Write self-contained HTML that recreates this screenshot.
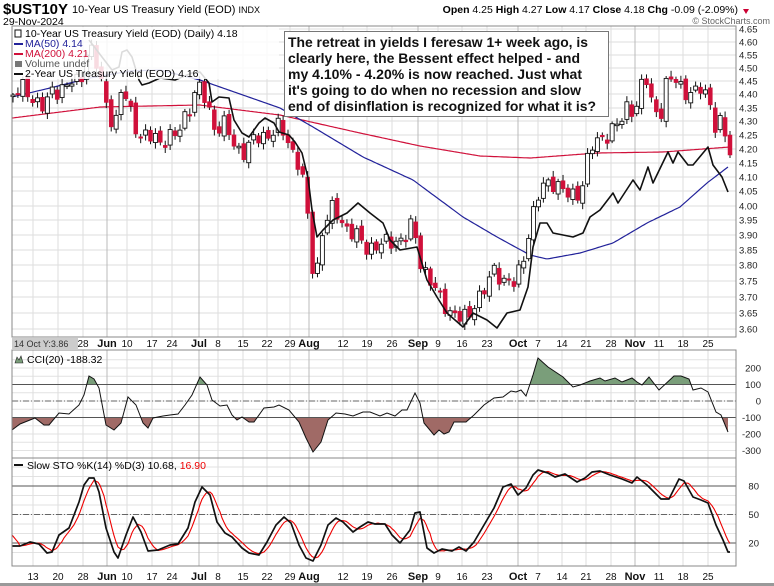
<!DOCTYPE html>
<html><head><meta charset="utf-8"><style>
html,body{margin:0;padding:0;background:#fff;}
svg{display:block;font-family:"Liberation Sans",Arial,sans-serif;}
</style></head><body>
<svg id="c" width="774" height="586" viewBox="0 0 774 586" xmlns="http://www.w3.org/2000/svg">
<rect width="774" height="586" fill="#fff"/>
<text x="3" y="14" font-size="15" font-weight="bold">$UST10Y</text>
<text x="72" y="13" font-size="11">10-Year US Treasury Yield (EOD) <tspan font-size="9">INDX</tspan></text>
<text x="3" y="25" font-size="10.5">29-Nov-2024</text>
<text x="738" y="13" font-size="10.5" text-anchor="end"><tspan font-weight="bold">Open</tspan> 4.25  <tspan font-weight="bold">High</tspan> 4.27  <tspan font-weight="bold">Low</tspan> 4.17  <tspan font-weight="bold">Close</tspan> 4.18  <tspan font-weight="bold">Chg</tspan> -0.09 (-2.09%)</text>
<path d="M743,9 l6,0 l-3,5z" fill="#c03"/>
<text x="770" y="24" font-size="9" fill="#666" text-anchor="end">© StockCharts.com</text>
<g id="grid"></g>
<g id="plot"></g>
<g id="fg"></g>
</svg>
<script>
(function(){
var NS="http://www.w3.org/2000/svg";
function el(p,t,a,txt){var e=document.createElementNS(NS,t);for(var q in a)e.setAttribute(q,a[q]);if(txt!=null)e.textContent=txt;document.getElementById(p).appendChild(e);return e;}
function interp(pts,x){if(x<=pts[0][0])return pts[0][1];for(var i=1;i<pts.length;i++){if(x<=pts[i][0]){var a=pts[i-1],b=pts[i];return a[1]+(b[1]-a[1])*(x-a[0])/(b[0]-a[0]);}}return pts[pts.length-1][1];}
function poly(pts){return pts.map(function(p){return p[0].toFixed(1)+","+p[1].toFixed(1)}).join(" ");}
var L=12,R=736;
var P1=[26,337],P2=[350,458],P3=[458,566];
var vx=[33,58,83,107,127,152,172,199,218,243,267,290,309,343,367,392,418,438,462,487,518,538,562,586,611,635,659,683,708];
var lab=["13","20","28","Jun","10","17","24","Jul","8","15","22","29","Aug","12","19","26","Sep","9","16","23","Oct","7","14","21","28","Nov","11","18","25"];
var month={"Jun":1,"Jul":1,"Aug":1,"Sep":1,"Oct":1,"Nov":1};
var pl=[[4.65,29],[4.60,42],[4.55,55],[4.50,68],[4.45,81],[4.40,94],[4.35,108],[4.30,121],[4.25,135],[4.20,149],[4.15,163],[4.10,177],[4.05,191],[4.00,206],[3.95,220],[3.90,235],[3.85,250],[3.80,265],[3.75,281],[3.70,297],[3.65,313],[3.60,329]];
pl.forEach(function(p){el("grid","line",{x1:L,x2:R,y1:p[1],y2:p[1],stroke:"#ddd","stroke-width":1});el("fg","text",{x:739,y:p[1]+3.5,"font-size":"9.5",fill:"#222"},p[0].toFixed(2));});
for(var v=250;v>=-300;v-=50){var yy=401-v*0.165;el("grid","line",{x1:L,x2:R,y1:yy,y2:yy,stroke:"#e2e2e2"});}
[200,100,0,-100,-200,-300].forEach(function(v){var y=401-v*0.165;el("fg","text",{x:761,y:y+3.5,"font-size":"9.5","text-anchor":"end",fill:"#222"},String(v));});
function sy(v){return 562-v*0.95;}
for(var v2=10;v2<=100;v2+=10){el("grid","line",{x1:L,x2:R,y1:sy(v2),y2:sy(v2),stroke:"#e2e2e2"});}
[80,50,20].forEach(function(v){el("fg","text",{x:759,y:sy(v)+3.5,"font-size":"9.5","text-anchor":"end",fill:"#222"},String(v));});
vx.forEach(function(x,i){var col=month[lab[i]]?"#bbb":"#ddd";
 [P1,P2,P3].forEach(function(p){el("grid","line",{x1:x,x2:x,y1:p[0],y2:p[1],stroke:col});});
 var b=month[lab[i]]?"bold":"normal";
 el("fg","text",{x:x,y:347,"font-size":month[lab[i]]?"11":"10","font-weight":b,"text-anchor":"middle",fill:"#111"},lab[i]);
 el("fg","text",{x:x,y:580,"font-size":month[lab[i]]?"11":"10","font-weight":b,"text-anchor":"middle",fill:"#111"},lab[i]);
});
var ma200=[[12,118],[100,107],[200,105],[280,115],[360,133],[420,146],[480,156],[530,158],[597,153],[663,152],[730,147]];
var ma50=[[12,97],[50,88],[90,78],[130,71],[160,70],[200,80],[240,94],[280,108],[313,127],[363,157],[413,180],[463,217],[497,237],[530,255],[547,259],[580,253],[613,243],[647,223],[680,207],[707,183],[728,167]];
function smooth(pts){var o=[];for(var x=pts[0][0];x<=pts[pts.length-1][0];x+=2)o.push([x,interp(pts,x)]);return o;}
el("plot","polyline",{points:poly(smooth(ma200)),fill:"none",stroke:"#d0103a","stroke-width":1.2});
el("plot","polyline",{points:poly(smooth(ma50)),fill:"none",stroke:"#22229a","stroke-width":1.2});
var cl=[[13,95],[25,88],[35,100],[45,110],[52,90],[62,88],[70,84],[80,82],[88,45],[94,55],[100,80],[107,105],[115,127],[122,88],[130,110],[140,135],[150,138],[160,140],[170,137],[178,136],[184,118],[192,100],[198,86],[205,100],[215,127],[225,125],[235,148],[245,150],[255,140],[262,137],[270,132],[280,128],[290,145],[300,165],[306,200],[312,268],[318,266],[323,225],[333,210],[345,225],[355,235],[365,248],[375,245],[385,245],[395,240],[405,238],[413,225],[420,260],[430,280],[440,300],[450,310],[460,318],[468,320],[475,300],[485,290],[495,270],[505,280],[515,285],[522,265],[530,225],[537,200],[545,185],[555,180],[562,190],[570,198],[577,195],[583,180],[590,150],[600,140],[610,130],[620,125],[628,105],[635,110],[641,88],[648,80],[652,105],[660,115],[667,82],[675,80],[685,90],[695,95],[702,88],[710,100],[715,125],[722,125],[730,155]];
var N=147,prev=95;
for(var i=0;i<N;i++){var cx=13+i*717/(N-1);
 var cc=interp(cl,cx)+7*Math.sin(i*2.3)+4*Math.sin(i*5.1);
 var oo=prev+3*Math.sin(i*3.7);
 if(i==N-1){oo=135;cc=155;}
 var tp=Math.min(oo,cc),bt=Math.max(oo,cc);if(bt-tp<1.5)bt=tp+1.5;
 var hi=tp-2-4*Math.abs(Math.sin(i*1.7)),lo=bt+2+4*Math.abs(Math.cos(i*1.3));
 if(i==N-1){hi=131;lo=158;}
 el("plot","line",{x1:cx,x2:cx,y1:hi,y2:lo,stroke:"#111","stroke-width":1});
 var red=cc>oo;
 el("plot","rect",{x:cx-2,y:tp,width:4,height:bt-tp,fill:red?"#d0103a":"#fff",stroke:red?"#d0103a":"#111","stroke-width":red?0.5:0.9});
 prev=cc;}
var y2=[[89,40],[102,57],[112,70],[119,67],[122,52],[127,50],[132,57],[139,80],[142,85],[149,83],[160,78],[175,80],[192,73],[200,72],[209,83],[212,102],[219,97],[229,98],[234,120],[242,133],[249,137],[259,123],[265,118],[274,123],[279,132],[289,135],[295,142],[302,153],[308,178],[312,210],[317,237],[323,230],[333,220],[347,213],[358,203],[370,213],[383,223],[390,240],[400,250],[417,247],[427,280],[437,297],[447,313],[463,327],[473,313],[487,320],[497,328],[507,313],[520,310],[528,287],[533,247],[540,223],[547,223],[553,233],[573,237],[583,233],[590,217],[600,210],[613,193],[618,203],[633,180],[640,190],[648,167],[653,183],[668,152],[673,163],[678,152],[688,165],[693,165],[708,147],[713,165],[722,177],[728,192]];
el("plot","polyline",{points:poly(y2),fill:"none",stroke:"#111","stroke-width":1.6,"stroke-linejoin":"round"});
var cci=[[12,430],[20,424],[35,418],[44,425],[49,425],[59,413],[69,414],[79,405],[84,395],[89,376],[94,379],[99,388],[106,425],[114,430],[121,423],[128,397],[136,405],[143,423],[148,428],[153,418],[163,416],[170,415],[178,414],[185,405],[192,395],[200,377],[207,385],[212,400],[220,406],[227,405],[232,415],[237,420],[242,417],[249,422],[254,422],[264,408],[274,407],[279,405],[289,410],[299,422],[306,438],[313,452],[321,442],[328,420],[336,413],[345,414],[353,416],[363,412],[370,412],[380,416],[387,413],[395,416],[402,410],[407,410],[415,393],[420,403],[424,423],[434,435],[439,430],[444,434],[449,432],[454,422],[466,422],[474,415],[484,405],[494,398],[503,397],[511,391],[516,392],[521,390],[526,396],[533,375],[538,358],[548,367],[563,377],[573,387],[580,385],[590,381],[600,378],[605,381],[615,378],[622,382],[632,378],[637,382],[642,385],[649,377],[659,390],[674,376],[681,376],[689,379],[693,390],[701,388],[708,392],[716,412],[721,415],[728,432]];
var defs=document.createElementNS(NS,"defs");document.getElementById("c").appendChild(defs);
function clip(id,y,h){var cp=document.createElementNS(NS,"clipPath");cp.setAttribute("id",id);var r=document.createElementNS(NS,"rect");r.setAttribute("x",0);r.setAttribute("y",y);r.setAttribute("width",774);r.setAttribute("height",h);cp.appendChild(r);defs.appendChild(cp);}
clip("up",350,34.5);clip("dn",417.5,41);
el("plot","polygon",{points:poly(cci.concat([[728,384.5],[12,384.5]])),fill:"#7a9e7a","clip-path":"url(#up)"});
el("plot","polygon",{points:poly(cci.concat([[728,417.5],[12,417.5]])),fill:"#a06a66","clip-path":"url(#dn)"});
el("plot","line",{x1:L,x2:R,y1:384.5,y2:384.5,stroke:"#555"});
el("plot","line",{x1:L,x2:R,y1:417.5,y2:417.5,stroke:"#555"});
el("plot","line",{x1:L,x2:R,y1:401,y2:401,stroke:"#666","stroke-dasharray":"6,2,1,2"});
el("plot","polyline",{points:poly(cci),fill:"none",stroke:"#111","stroke-width":1});
el("plot","line",{x1:L,x2:R,y1:sy(80),y2:sy(80),stroke:"#555"});
el("plot","line",{x1:L,x2:R,y1:sy(20),y2:sy(20),stroke:"#555"});
el("plot","line",{x1:L,x2:R,y1:sy(50),y2:sy(50),stroke:"#666","stroke-dasharray":"6,2,1,2"});
var kk=[[12,546],[20,546],[30,542],[39,544],[47,553],[52,552],[59,535],[69,528],[79,502],[84,485],[89,478],[94,478],[99,492],[106,528],[114,552],[118,558],[126,535],[133,517],[141,532],[148,551],[158,550],[170,545],[178,544],[188,528],[195,502],[202,487],[210,495],[217,522],[225,533],[232,537],[242,548],[249,553],[259,555],[267,542],[276,525],[284,517],[291,523],[299,545],[306,558],[313,561],[321,545],[328,525],[336,518],[343,522],[353,532],[360,527],[368,522],[375,524],[385,524],[392,535],[400,543],[410,530],[415,513],[420,512],[427,548],[434,553],[442,549],[452,551],[459,547],[466,551],[474,542],[484,525],[494,508],[503,487],[511,484],[518,495],[526,488],[533,475],[538,470],[548,473],[555,477],[565,474],[577,482],[585,478],[592,472],[600,471],[610,475],[622,479],[632,483],[637,477],[647,485],[661,499],[669,499],[679,479],[684,481],[693,497],[701,500],[708,503],[716,525],[723,540],[728,552],[730,552]];
var dd=[];for(var xx=12;xx<=731;xx+=2){var vv=(interp(kk,xx)+interp(kk,xx-5)+interp(kk,xx-10))/3;if(xx<20)vv=535+(xx-12)*1.2;dd.push([xx,vv]);}
el("plot","polyline",{points:poly(dd),fill:"none",stroke:"#e00","stroke-width":1.1});
el("plot","polyline",{points:poly(kk),fill:"none",stroke:"#111","stroke-width":1.7,"stroke-linejoin":"round"});
[P1,P2,P3].forEach(function(p){el("fg","rect",{x:L,y:p[0],width:R-L,height:p[1]-p[0],fill:"none",stroke:"#888"});});
el("fg","rect",{x:0,y:583,width:774,height:3,fill:"#999"});
el("fg","rect",{x:13,y:27,width:266,height:52,fill:"#fff","fill-opacity":0.85});
el("fg","text",{x:25,y:37,"font-size":"10.5"},"10-Year US Treasury Yield (EOD) (Daily) 4.18");
el("fg","rect",{x:15,y:30,width:6,height:7,fill:"none",stroke:"#111"});
el("fg","line",{x1:14,x2:23,y1:44,y2:44,stroke:"#22229a","stroke-width":2});
el("fg","text",{x:25,y:47,"font-size":"10.5",fill:"#22229a"},"MA(50) 4.14");
el("fg","line",{x1:14,x2:23,y1:54,y2:54,stroke:"#d0103a","stroke-width":2});
el("fg","text",{x:25,y:57,"font-size":"10.5",fill:"#d0103a"},"MA(200) 4.21");
el("fg","rect",{x:15,y:61,width:7,height:6,fill:"#777"});
el("fg","text",{x:25,y:67,"font-size":"10.5",fill:"#555"},"Volume undef");
el("fg","line",{x1:14,x2:23,y1:74,y2:74,stroke:"#111","stroke-width":2});
el("fg","text",{x:25,y:77,"font-size":"10.5"},"2-Year US Treasury Yield (EOD) 4.16");
el("fg","rect",{x:284.5,y:31.5,width:324,height:85,fill:"#fff",stroke:"#777"});
var ann=[["The retreat in yields I feresaw 1+ week ago, is",300],["clearly here, the Bessent effect helped - and",292],["my 4.10% - 4.20% is now reached. Just what",294],["it's going to do when no recession and slow",293],["end of disinflation is recognized for what it is?",308]];
ann.forEach(function(a,i){el("fg","text",{x:288,y:47+i*16,"font-size":"14","font-weight":"bold",textLength:a[1],lengthAdjust:"spacingAndGlyphs",fill:"#111"},a[0]);});
el("fg","rect",{x:12,y:338,width:66,height:12,fill:"#ccc"});
el("fg","text",{x:14,y:347,"font-size":"9",fill:"#333"},"14 Oct Y:3.86");
el("fg","path",{d:"M15,363 l2,-6 l2,3 l2,-4 l2,7z",fill:"#7a9e7a",stroke:"#222","stroke-width":0.6});
el("fg","text",{x:27,y:363,"font-size":"10.5"},"CCI(20) -188.32");
el("fg","line",{x1:14,x2:23,y1:465,y2:465,stroke:"#111","stroke-width":2});
var t=el("fg","text",{x:27,y:469,"font-size":"10.5"},"Slow STO %K(14) %D(3) 10.68, ");
var ts=document.createElementNS(NS,"tspan");ts.setAttribute("fill","#e00");ts.textContent="16.90";t.appendChild(ts);
})();
</script>
</body></html>
